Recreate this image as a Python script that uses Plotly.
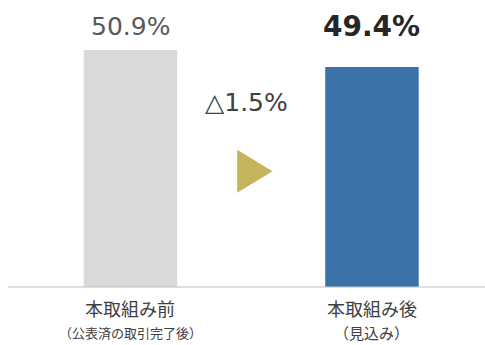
import plotly.graph_objects as go

# Ratio before and after the initiative
categories = ["本取組み前", "本取組み後"]
sub_labels = ["（公表済の取引完了後）", "（見込み）"]
sub_sizes = [13, 15]
values = [50.9, 49.4]
value_labels = ["50.9%", "49.4%"]
delta_label = "△1.5%"

bar_colors = ["#d9d9d9", "#3b72a7"]
x_pos = [0, 1]

fig = go.Figure()
fig.add_trace(go.Bar(
    x=x_pos, y=values, width=0.387,
    marker=dict(color=bar_colors, line=dict(width=0)),
    hoverinfo="skip",
))

num_font = "DejaVu Sans, Verdana, sans-serif"
jp_font = "Noto Sans CJK JP, sans-serif"

# value labels above bars
fig.add_annotation(x=x_pos[0], y=values[0], text=value_labels[0], showarrow=False,
                   yanchor="middle", yshift=23,
                   font=dict(family=num_font, size=25, color="#595959"))
fig.add_annotation(x=x_pos[1], y=values[1], text="<b>" + value_labels[1] + "</b>", showarrow=False,
                   yanchor="middle", yshift=40,
                   font=dict(family=num_font, size=28, color="#262626"))

# change label and arrow between bars
fig.add_annotation(x=0.482, y=46.3, text=delta_label, showarrow=False,
                   font=dict(family=num_font, size=25, color="#404040"))
fig.add_shape(type="path", path="M 0.442 42.1 L 0.588 40.2 L 0.442 38.3 Z",
              fillcolor="#c6b35e", line=dict(width=0))

# category labels
for xi, cat, sub, ss in zip(x_pos, categories, sub_labels, sub_sizes):
    fig.add_annotation(x=xi, y=0, yref="paper", text=cat, showarrow=False,
                       yanchor="middle", yshift=-21,
                       font=dict(family=jp_font, size=18, color="#404040"))
    fig.add_annotation(x=xi, y=0, yref="paper", text=sub, showarrow=False,
                       yanchor="middle", yshift=-45,
                       font=dict(family=jp_font, size=ss, color="#404040"))

fig.update_layout(
    width=485, height=345,
    margin=dict(l=8, r=0, t=0, b=58),
    paper_bgcolor="white", plot_bgcolor="white",
    showlegend=False,
    xaxis=dict(range=[-0.507, 1.468], showticklabels=False, showgrid=False,
               zeroline=False, showline=False, fixedrange=True),
    yaxis=dict(range=[30, 55.3], showticklabels=False, showgrid=False,
               zeroline=False, showline=False, fixedrange=True),
)
# baseline
fig.add_shape(type="line", xref="paper", yref="paper", x0=0, x1=1, y0=0, y1=0,
              line=dict(color="#bfbfbf", width=1.2))

fig.write_html("out.html")
